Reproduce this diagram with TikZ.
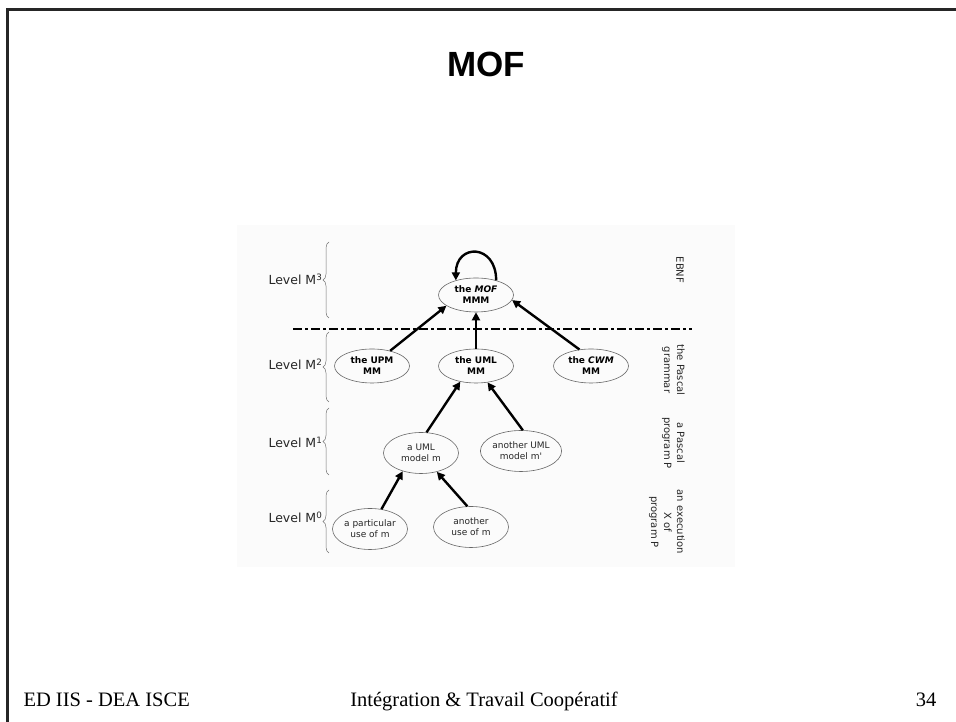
\documentclass[tikz,border=0pt]{standalone}
\usepackage{fontspec}
\setmainfont{Liberation Serif}
\newfontfamily\titlefont{Liberation Sans}
\newfontfamily\diagfont{DejaVu Sans}
\usepackage{tikz}
\usetikzlibrary{shapes,arrows,calc}
\usetikzlibrary{decorations.pathreplacing}
\usetikzlibrary{arrows.meta}
\tikzstyle{tsSmall} = [ 
    text=black!85, 
    font=\diagfont\fontsize{9}{11}\selectfont
]
\tikzstyle{tsSmallBold} = [ 
    text=black, 
    font=\diagfont\bfseries\fontsize{9}{11}\selectfont
]
\tikzstyle{tsEllipse} = [ 
    ellipse,
    align=center,
    draw=black!60,
    line width=0.6pt,
    inner sep=0pt,
    minimum width=75pt]
\tikzstyle{tsMetaEllipse} = [  
    tsEllipse,
    tsSmallBold,
    minimum height=34pt
]
\tikzstyle{tsModelEllipse} = [  
    tsEllipse,
    tsSmall,
    minimum height=41pt
]
\tikzstyle{tsArrow} = [ 
    -{Triangle[length=8pt,width=8pt]},
    line width=2.4pt
]
\tikzstyle{tsLevel} = [ 
    anchor=base west,
    text=black!85,
    font=\diagfont\fontsize{12.5}{15}\selectfont
]
\tikzstyle{tsSide} = [ 
    rotate=-90,
    align=center,
    text=black!85,
    font=\diagfont\fontsize{10}{13}\selectfont
]
\tikzstyle{tsBrace} = [ 
    draw=black!55,
    line width=0.5pt,
    decorate,
    decoration={brace,amplitude=6pt}
]
\tikzstyle{tsFooter} = [ 
    anchor=base,
    font=\fontsize{20.5}{24}\selectfont
]

\begin{document}
\begin{tikzpicture}[x=1pt, y=1pt]
    \useasboundingbox (0,0) rectangle (956,722);

    % slide frame and title
    \draw[line width=3pt, black!85] (7.5,-5) -- (7.5,712.5) -- (965,712.5);
    \node[anchor=base, font=\titlefont\bfseries\fontsize{35}{40}\selectfont] (title) at (486,645) {MOF};

    % pasted figure background
    \fill[black!1.5] (237,155) rectangle (735,497);

    % metamodels
    \node[tsMetaEllipse] (mof) at (476,427) {the \textit{MOF}\\MMM};
    \node[tsMetaEllipse] (upm) at (372,356) {the UPM\\MM};
    \node[tsMetaEllipse] (umlmm) at (476,356) {the UML\\MM};
    \node[tsMetaEllipse] (cwm) at (591,356) {the \textit{CWM}\\MM};

    % models and uses
    \node[tsModelEllipse] (model) at (421,269) {a UML\\model m};
    \node[tsModelEllipse] (othermodel) at (521,271) {another UML\\model m'};
    \node[tsModelEllipse] (use) at (370,193) {a particular\\use of m};
    \node[tsModelEllipse] (otheruse) at (471,195) {another\\use of m};

    % level separator
    \coordinate (sepL) at (293,393);
    \coordinate (sepR) at (692,393);
    \draw[line width=2pt, dash pattern=on 9pt off 3pt on 3pt off 3pt] (sepL) -- (sepR);

    % arrows
    \draw[tsArrow] (mof.36) .. controls +(0,37) and +(0,37) .. (mof.144);
    \draw[tsArrow] (upm.40) -- (mof.200);
    \draw[tsArrow] (umlmm.north) -- (mof.south);
    \draw[tsArrow] (cwm.125) -- (mof.352);
    \draw[tsArrow] (model.75) -- (umlmm.225);
    \draw[tsArrow] (othermodel.85) -- (umlmm.305);
    \draw[tsArrow] (use.60) -- (model.225);
    \draw[tsArrow] (otheruse.100) -- (model.310);

    % levels
    \node[tsLevel] (lvl3) at (265,437) {Level M\textsuperscript{3}};
    \node[tsLevel] (lvl2) at (265,352) {Level M\textsuperscript{2}};
    \node[tsLevel] (lvl1) at (265,274) {Level M\textsuperscript{1}};
    \node[tsLevel] (lvl0) at (265,199) {Level M\textsuperscript{0}};
    \draw[tsBrace] (329,404) -- (329,480);
    \draw[tsBrace] (329,320) -- (329,390);
    \draw[tsBrace] (329,247) -- (329,314);
    \draw[tsBrace] (329,169) -- (329,232);

    % pascal analogy
    \node[tsSide] (ebnf) at (680,452) {EBNF};
    \node[tsSide] (grammar) at (673.5,352) {the Pascal\\grammar};
    \node[tsSide] (program) at (673.5,279) {a Pascal\\program P};
    \node[tsSide] (execution) at (667,200) {an execution\\X of\\program P};

    % footer
    \node[tsFooter, anchor=base west] (course) at (20,15) {ED IIS - DEA ISCE};
    \node[tsFooter] (topic) at (484,15) {Intégration \& Travail Coopératif};
    \node[tsFooter, anchor=base east] (page) at (940,15) {34};
\end{tikzpicture}
\end{document}
